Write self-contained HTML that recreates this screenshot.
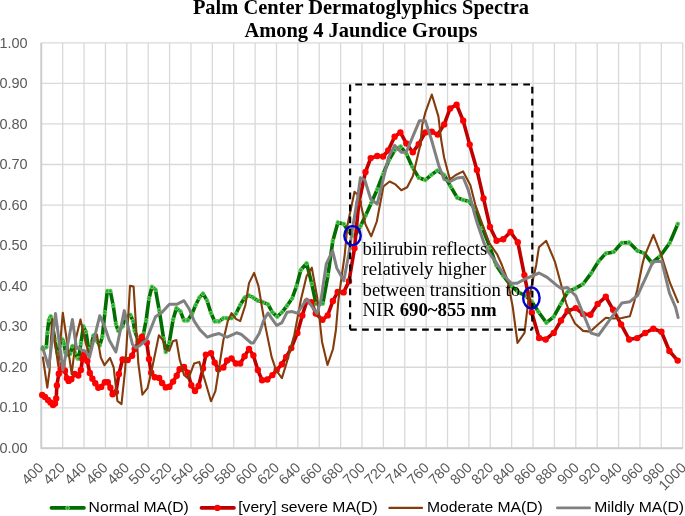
<!DOCTYPE html>
<html><head><meta charset="utf-8"><title>Palm Center Dermatoglyphics Spectra</title><style>
html,body{margin:0;padding:0;background:#fff;}
body{width:685px;height:516px;position:relative;overflow:hidden;}
.ax{font-family:"Liberation Sans",sans-serif;font-size:14.5px;fill:#595959;}
.xl{font-size:14.4px;}
.lg{font-family:"Liberation Sans",sans-serif;font-size:15.7px;fill:#000;}
.an{font-family:"Liberation Serif",serif;font-size:18.8px;fill:#000;}
.tt{font-family:"Liberation Serif",serif;font-size:20.45px;font-weight:bold;fill:#000;}
</style></head><body>
<svg width="685" height="516" viewBox="0 0 685 516" style="position:absolute;left:0;top:0;will-change:transform">
<path d="M41.30 448.35H682.70M41.30 407.80H682.70M41.30 367.25H682.70M41.30 326.70H682.70M41.30 286.15H682.70M41.30 245.60H682.70M41.30 205.05H682.70M41.30 164.50H682.70M41.30 123.95H682.70M41.30 83.40H682.70M41.30 42.85H682.70M41.30 42.85V448.35M62.68 42.85V448.35M84.06 42.85V448.35M105.44 42.85V448.35M126.82 42.85V448.35M148.20 42.85V448.35M169.58 42.85V448.35M190.96 42.85V448.35M212.34 42.85V448.35M233.72 42.85V448.35M255.10 42.85V448.35M276.48 42.85V448.35M297.86 42.85V448.35M319.24 42.85V448.35M340.62 42.85V448.35M362.00 42.85V448.35M383.38 42.85V448.35M404.76 42.85V448.35M426.14 42.85V448.35M447.52 42.85V448.35M468.90 42.85V448.35M490.28 42.85V448.35M511.66 42.85V448.35M533.04 42.85V448.35M554.42 42.85V448.35M575.80 42.85V448.35M597.18 42.85V448.35M618.56 42.85V448.35M639.94 42.85V448.35M661.32 42.85V448.35M682.70 42.85V448.35" stroke="#d9d9d9" stroke-width="1.3" fill="none"/>
<path d="M41.3 42.9V448.2H682.8" stroke="#cdcdcd" stroke-width="1.9" fill="none" stroke-linejoin="round"/>
<text x="27.6" y="453.0" text-anchor="end" class="ax">0.00</text>
<text x="27.6" y="412.4" text-anchor="end" class="ax">0.10</text>
<text x="27.6" y="371.9" text-anchor="end" class="ax">0.20</text>
<text x="27.6" y="331.3" text-anchor="end" class="ax">0.30</text>
<text x="27.6" y="290.8" text-anchor="end" class="ax">0.40</text>
<text x="27.6" y="250.2" text-anchor="end" class="ax">0.50</text>
<text x="27.6" y="209.7" text-anchor="end" class="ax">0.60</text>
<text x="27.6" y="169.1" text-anchor="end" class="ax">0.70</text>
<text x="27.6" y="128.6" text-anchor="end" class="ax">0.80</text>
<text x="27.6" y="88.0" text-anchor="end" class="ax">0.90</text>
<text x="27.6" y="47.5" text-anchor="end" class="ax">1.00</text>
<text transform="translate(44.4,468.6) rotate(-45)" text-anchor="end" class="ax xl">400</text>
<text transform="translate(65.9,468.6) rotate(-45)" text-anchor="end" class="ax xl">420</text>
<text transform="translate(87.3,468.6) rotate(-45)" text-anchor="end" class="ax xl">440</text>
<text transform="translate(108.7,468.6) rotate(-45)" text-anchor="end" class="ax xl">460</text>
<text transform="translate(130.1,468.6) rotate(-45)" text-anchor="end" class="ax xl">480</text>
<text transform="translate(151.6,468.6) rotate(-45)" text-anchor="end" class="ax xl">500</text>
<text transform="translate(173.0,468.6) rotate(-45)" text-anchor="end" class="ax xl">520</text>
<text transform="translate(194.4,468.6) rotate(-45)" text-anchor="end" class="ax xl">540</text>
<text transform="translate(215.8,468.6) rotate(-45)" text-anchor="end" class="ax xl">560</text>
<text transform="translate(237.2,468.6) rotate(-45)" text-anchor="end" class="ax xl">580</text>
<text transform="translate(258.6,468.6) rotate(-45)" text-anchor="end" class="ax xl">600</text>
<text transform="translate(280.1,468.6) rotate(-45)" text-anchor="end" class="ax xl">620</text>
<text transform="translate(301.5,468.6) rotate(-45)" text-anchor="end" class="ax xl">640</text>
<text transform="translate(322.9,468.6) rotate(-45)" text-anchor="end" class="ax xl">660</text>
<text transform="translate(344.3,468.6) rotate(-45)" text-anchor="end" class="ax xl">680</text>
<text transform="translate(365.8,468.6) rotate(-45)" text-anchor="end" class="ax xl">700</text>
<text transform="translate(387.2,468.6) rotate(-45)" text-anchor="end" class="ax xl">720</text>
<text transform="translate(408.6,468.6) rotate(-45)" text-anchor="end" class="ax xl">740</text>
<text transform="translate(430.0,468.6) rotate(-45)" text-anchor="end" class="ax xl">760</text>
<text transform="translate(451.4,468.6) rotate(-45)" text-anchor="end" class="ax xl">780</text>
<text transform="translate(472.9,468.6) rotate(-45)" text-anchor="end" class="ax xl">800</text>
<text transform="translate(494.3,468.6) rotate(-45)" text-anchor="end" class="ax xl">820</text>
<text transform="translate(515.7,468.6) rotate(-45)" text-anchor="end" class="ax xl">840</text>
<text transform="translate(537.1,468.6) rotate(-45)" text-anchor="end" class="ax xl">860</text>
<text transform="translate(558.5,468.6) rotate(-45)" text-anchor="end" class="ax xl">880</text>
<text transform="translate(580.0,468.6) rotate(-45)" text-anchor="end" class="ax xl">900</text>
<text transform="translate(601.4,468.6) rotate(-45)" text-anchor="end" class="ax xl">920</text>
<text transform="translate(622.8,468.6) rotate(-45)" text-anchor="end" class="ax xl">940</text>
<text transform="translate(644.2,468.6) rotate(-45)" text-anchor="end" class="ax xl">960</text>
<text transform="translate(665.6,468.6) rotate(-45)" text-anchor="end" class="ax xl">980</text>
<text transform="translate(687.1,468.6) rotate(-45)" text-anchor="end" class="ax xl">1000</text>
<polyline points="42.2,349.0 46.3,347.2 47.4,333.0 48.8,320.1 50.7,316.4 57.3,352.7 62.5,339.5 64.3,343.9 65.4,352.4 68.0,355.0 70.2,353.8 72.4,346.1 77.6,358.6 78.7,358.6 80.9,343.2 83.4,326.4 86.0,331.9 88.6,349.0 89.5,352.0 93.5,335.5 99.7,345.4 102.3,336.7 104.9,312.4 107.3,291.0 110.3,291.0 113.2,305.5 115.9,323.8 118.1,330.8 122.6,326.4 125.1,317.5 130.3,314.9 133.2,321.2 134.7,330.8 137.6,339.0 140.5,343.0 143.5,333.8 146.1,320.4 149.0,298.5 151.9,286.8 155.5,289.7 159.2,310.1 163.6,338.6 165.8,352.0 169.2,342.7 173.1,319.6 176.4,308.2 180.4,311.3 184.0,320.4 187.7,320.4 192.0,313.8 195.7,305.0 199.3,297.7 203.0,293.6 207.1,300.7 211.0,313.1 214.7,321.4 219.0,321.4 223.4,318.2 226.4,318.2 231.5,318.2 235.9,313.8 240.2,305.0 244.6,297.7 249.0,295.5 253.4,297.7 257.8,300.7 262.9,302.1 268.0,304.3 272.4,312.3 277.2,316.7 281.9,312.3 287.0,305.8 292.1,298.5 296.5,286.1 300.8,270.0 306.6,263.3 311.8,283.9 316.0,304.0 322.8,303.6 328.0,275.1 332.8,241.0 337.9,222.4 343.8,223.9 347.5,230.3 351.9,234.6 355.0,236.0 360.6,225.9 365.5,215.8 371.4,202.7 377.2,189.5 383.1,174.2 388.9,160.3 394.7,150.1 400.6,146.5 406.4,153.8 412.3,166.9 418.8,177.8 425.4,180.0 431.2,174.9 437.3,170.6 444.1,175.0 450.7,186.7 457.2,197.7 463.1,199.9 468.9,201.3 474.7,208.6 490.0,247.3 496.1,265.0 503.4,276.0 510.7,285.4 518.0,292.0 525.3,295.7 531.8,301.5 538.4,311.7 546.4,322.7 553.7,316.8 561.0,303.7 567.6,292.0 575.3,288.4 583.1,284.0 591.2,273.1 598.5,261.4 605.8,253.4 613.8,251.9 621.8,242.8 629.2,242.5 637.4,250.8 644.0,253.1 652.0,263.0 660.3,256.0 669.7,243.0 677.8,223.9" fill="none" stroke="#006e00" stroke-width="3.6" stroke-linejoin="round" stroke-linecap="round"/>
<g fill="#00b050" stroke="#92d050" stroke-width="0.9"><circle cx="42.2" cy="349.0" r="1.9"/><circle cx="44.2" cy="348.1" r="1.9"/><circle cx="46.3" cy="347.2" r="1.9"/><circle cx="47.4" cy="333.0" r="1.9"/><circle cx="48.8" cy="320.1" r="1.9"/><circle cx="50.7" cy="316.4" r="1.9"/><circle cx="52.9" cy="328.5" r="1.9"/><circle cx="55.1" cy="340.6" r="1.9"/><circle cx="57.3" cy="352.7" r="1.9"/><circle cx="59.9" cy="346.1" r="1.9"/><circle cx="62.5" cy="339.5" r="1.9"/><circle cx="64.3" cy="343.9" r="1.9"/><circle cx="65.4" cy="352.4" r="1.9"/><circle cx="68.0" cy="355.0" r="1.9"/><circle cx="70.2" cy="353.8" r="1.9"/><circle cx="72.4" cy="346.1" r="1.9"/><circle cx="75.0" cy="352.4" r="1.9"/><circle cx="77.6" cy="358.6" r="1.9"/><circle cx="78.7" cy="358.6" r="1.9"/><circle cx="80.9" cy="343.2" r="1.9"/><circle cx="83.4" cy="326.4" r="1.9"/><circle cx="86.0" cy="331.9" r="1.9"/><circle cx="88.6" cy="349.0" r="1.9"/><circle cx="89.5" cy="352.0" r="1.9"/><circle cx="91.5" cy="343.8" r="1.9"/><circle cx="93.5" cy="335.5" r="1.9"/><circle cx="96.6" cy="340.4" r="1.9"/><circle cx="99.7" cy="345.4" r="1.9"/><circle cx="102.3" cy="336.7" r="1.9"/><circle cx="104.9" cy="312.4" r="1.9"/><circle cx="107.3" cy="291.0" r="1.9"/><circle cx="110.3" cy="291.0" r="1.9"/><circle cx="113.2" cy="305.5" r="1.9"/><circle cx="115.9" cy="323.8" r="1.9"/><circle cx="118.1" cy="330.8" r="1.9"/><circle cx="120.3" cy="328.6" r="1.9"/><circle cx="122.6" cy="326.4" r="1.9"/><circle cx="125.1" cy="317.5" r="1.9"/><circle cx="127.7" cy="316.2" r="1.9"/><circle cx="130.3" cy="314.9" r="1.9"/><circle cx="133.2" cy="321.2" r="1.9"/><circle cx="134.7" cy="330.8" r="1.9"/><circle cx="137.6" cy="339.0" r="1.9"/><circle cx="140.5" cy="343.0" r="1.9"/><circle cx="143.5" cy="333.8" r="1.9"/><circle cx="146.1" cy="320.4" r="1.9"/><circle cx="149.0" cy="298.5" r="1.9"/><circle cx="151.9" cy="286.8" r="1.9"/><circle cx="155.5" cy="289.7" r="1.9"/><circle cx="159.2" cy="310.1" r="1.9"/><circle cx="163.6" cy="338.6" r="1.9"/><circle cx="165.8" cy="352.0" r="1.9"/><circle cx="169.2" cy="342.7" r="1.9"/><circle cx="173.1" cy="319.6" r="1.9"/><circle cx="176.4" cy="308.2" r="1.9"/><circle cx="180.4" cy="311.3" r="1.9"/><circle cx="184.0" cy="320.4" r="1.9"/><circle cx="187.7" cy="320.4" r="1.9"/><circle cx="192.0" cy="313.8" r="1.9"/><circle cx="195.7" cy="305.0" r="1.9"/><circle cx="199.3" cy="297.7" r="1.9"/><circle cx="203.0" cy="293.6" r="1.9"/><circle cx="207.1" cy="300.7" r="1.9"/><circle cx="211.0" cy="313.1" r="1.9"/><circle cx="214.7" cy="321.4" r="1.9"/><circle cx="219.0" cy="321.4" r="1.9"/><circle cx="223.4" cy="318.2" r="1.9"/><circle cx="226.4" cy="318.2" r="1.9"/><circle cx="231.5" cy="318.2" r="1.9"/><circle cx="235.9" cy="313.8" r="1.9"/><circle cx="240.2" cy="305.0" r="1.9"/><circle cx="244.6" cy="297.7" r="1.9"/><circle cx="249.0" cy="295.5" r="1.9"/><circle cx="253.4" cy="297.7" r="1.9"/><circle cx="257.8" cy="300.7" r="1.9"/><circle cx="262.9" cy="302.1" r="1.9"/><circle cx="268.0" cy="304.3" r="1.9"/><circle cx="272.4" cy="312.3" r="1.9"/><circle cx="277.2" cy="316.7" r="1.9"/><circle cx="281.9" cy="312.3" r="1.9"/><circle cx="287.0" cy="305.8" r="1.9"/><circle cx="292.1" cy="298.5" r="1.9"/><circle cx="296.5" cy="286.1" r="1.9"/><circle cx="300.8" cy="270.0" r="1.9"/><circle cx="306.6" cy="263.3" r="1.9"/><circle cx="311.8" cy="283.9" r="1.9"/><circle cx="316.0" cy="304.0" r="1.9"/><circle cx="322.8" cy="303.6" r="1.9"/><circle cx="328.0" cy="275.1" r="1.9"/><circle cx="332.8" cy="241.0" r="1.9"/><circle cx="337.9" cy="222.4" r="1.9"/><circle cx="343.8" cy="223.9" r="1.9"/><circle cx="347.5" cy="230.3" r="1.9"/><circle cx="351.9" cy="234.6" r="1.9"/><circle cx="355.0" cy="236.0" r="1.9"/><circle cx="360.6" cy="225.9" r="1.9"/><circle cx="365.5" cy="215.8" r="1.9"/><circle cx="371.4" cy="202.7" r="1.9"/><circle cx="377.2" cy="189.5" r="1.9"/><circle cx="383.1" cy="174.2" r="1.9"/><circle cx="388.9" cy="160.3" r="1.9"/><circle cx="394.7" cy="150.1" r="1.9"/><circle cx="400.6" cy="146.5" r="1.9"/><circle cx="406.4" cy="153.8" r="1.9"/><circle cx="412.3" cy="166.9" r="1.9"/><circle cx="418.8" cy="177.8" r="1.9"/><circle cx="425.4" cy="180.0" r="1.9"/><circle cx="431.2" cy="174.9" r="1.9"/><circle cx="437.3" cy="170.6" r="1.9"/><circle cx="444.1" cy="175.0" r="1.9"/><circle cx="450.7" cy="186.7" r="1.9"/><circle cx="457.2" cy="197.7" r="1.9"/><circle cx="463.1" cy="199.9" r="1.9"/><circle cx="468.9" cy="201.3" r="1.9"/><circle cx="474.7" cy="208.6" r="1.9"/><circle cx="482.4" cy="227.9" r="1.9"/><circle cx="490.0" cy="247.3" r="1.9"/><circle cx="496.1" cy="265.0" r="1.9"/><circle cx="503.4" cy="276.0" r="1.9"/><circle cx="510.7" cy="285.4" r="1.9"/><circle cx="518.0" cy="292.0" r="1.9"/><circle cx="525.3" cy="295.7" r="1.9"/><circle cx="531.8" cy="301.5" r="1.9"/><circle cx="538.4" cy="311.7" r="1.9"/><circle cx="546.4" cy="322.7" r="1.9"/><circle cx="553.7" cy="316.8" r="1.9"/><circle cx="561.0" cy="303.7" r="1.9"/><circle cx="567.6" cy="292.0" r="1.9"/><circle cx="575.3" cy="288.4" r="1.9"/><circle cx="583.1" cy="284.0" r="1.9"/><circle cx="591.2" cy="273.1" r="1.9"/><circle cx="598.5" cy="261.4" r="1.9"/><circle cx="605.8" cy="253.4" r="1.9"/><circle cx="613.8" cy="251.9" r="1.9"/><circle cx="621.8" cy="242.8" r="1.9"/><circle cx="629.2" cy="242.5" r="1.9"/><circle cx="637.4" cy="250.8" r="1.9"/><circle cx="644.0" cy="253.1" r="1.9"/><circle cx="652.0" cy="263.0" r="1.9"/><circle cx="660.3" cy="256.0" r="1.9"/><circle cx="669.7" cy="243.0" r="1.9"/><circle cx="677.8" cy="223.9" r="1.9"/></g>
<polyline points="42.2,395.0 45.0,397.0 48.0,400.0 50.5,402.5 53.0,405.0 55.0,403.5 56.2,398.4 56.9,385.5 58.8,373.7 62.5,364.5 65.0,370.7 66.9,378.3 68.6,380.9 71.3,379.2 74.8,373.9 78.3,375.6 80.9,370.0 82.5,359.0 84.0,354.5 87.3,361.0 89.8,373.0 92.4,378.8 95.3,383.3 98.3,387.7 101.2,386.9 104.9,382.2 107.8,382.2 110.4,387.7 112.6,394.3 115.9,392.1 118.9,374.0 122.6,359.4 127.7,360.1 132.1,355.7 134.7,349.0 138.5,342.0 142.0,336.8 146.8,342.7 149.0,358.9 151.2,372.8 154.8,377.2 159.2,378.0 162.1,383.0 165.8,387.4 169.4,386.7 173.1,381.6 176.7,375.8 179.6,369.2 184.0,367.0 187.7,372.8 191.3,385.3 195.0,391.1 198.6,386.0 203.0,368.5 205.9,354.6 211.0,353.1 214.7,362.6 218.3,369.2 223.4,367.5 227.1,360.5 231.5,358.4 235.9,363.5 240.2,363.5 244.6,356.2 249.0,348.9 253.4,355.4 257.8,370.0 262.1,380.3 267.3,379.5 272.4,375.1 276.7,370.0 281.9,364.2 286.2,356.9 291.3,348.1 297.4,332.9 302.3,315.4 306.7,301.4 311.5,302.3 315.8,313.6 322.4,319.8 327.7,315.4 332.9,301.0 337.7,292.0 343.6,292.4 349.0,281.3 354.5,248.3 358.8,202.5 365.5,172.0 370.7,158.1 377.2,156.0 383.1,156.5 388.2,150.5 394.6,136.8 400.4,132.4 406.3,143.4 412.8,152.2 418.7,144.1 425.3,132.4 431.8,131.7 437.7,134.6 444.2,124.4 450.1,108.4 456.6,104.7 463.2,120.8 469.7,144.6 476.9,169.9 483.5,198.4 490.0,226.9 496.6,240.8 503.2,239.3 510.5,232.0 517.8,242.2 524.4,275.1 531.8,312.4 539.1,338.0 545.7,339.5 553.7,332.9 561.0,320.5 567.6,311.0 575.7,308.1 583.1,314.1 590.4,314.8 597.7,303.9 605.8,296.8 613.1,309.7 621.1,324.4 629.2,339.5 637.2,338.1 645.2,333.0 653.3,328.7 661.4,331.7 669.4,351.0 677.7,360.6" fill="none" stroke="#c00000" stroke-width="3.6" stroke-linejoin="round" stroke-linecap="round"/>
<g fill="#ff0000"><circle cx="42.2" cy="395.0" r="3.2"/><circle cx="45.0" cy="397.0" r="3.2"/><circle cx="48.0" cy="400.0" r="3.2"/><circle cx="50.5" cy="402.5" r="3.2"/><circle cx="53.0" cy="405.0" r="3.2"/><circle cx="55.0" cy="403.5" r="3.2"/><circle cx="56.2" cy="398.4" r="3.2"/><circle cx="56.9" cy="385.5" r="3.2"/><circle cx="58.8" cy="373.7" r="3.2"/><circle cx="60.6" cy="369.1" r="3.2"/><circle cx="62.5" cy="364.5" r="3.2"/><circle cx="65.0" cy="370.7" r="3.2"/><circle cx="66.9" cy="378.3" r="3.2"/><circle cx="68.6" cy="380.9" r="3.2"/><circle cx="71.3" cy="379.2" r="3.2"/><circle cx="74.8" cy="373.9" r="3.2"/><circle cx="78.3" cy="375.6" r="3.2"/><circle cx="80.9" cy="370.0" r="3.2"/><circle cx="82.5" cy="359.0" r="3.2"/><circle cx="84.0" cy="354.5" r="3.2"/><circle cx="87.3" cy="361.0" r="3.2"/><circle cx="89.8" cy="373.0" r="3.2"/><circle cx="92.4" cy="378.8" r="3.2"/><circle cx="95.3" cy="383.3" r="3.2"/><circle cx="98.3" cy="387.7" r="3.2"/><circle cx="101.2" cy="386.9" r="3.2"/><circle cx="104.9" cy="382.2" r="3.2"/><circle cx="107.8" cy="382.2" r="3.2"/><circle cx="110.4" cy="387.7" r="3.2"/><circle cx="112.6" cy="394.3" r="3.2"/><circle cx="115.9" cy="392.1" r="3.2"/><circle cx="118.9" cy="374.0" r="3.2"/><circle cx="122.6" cy="359.4" r="3.2"/><circle cx="125.2" cy="359.8" r="3.2"/><circle cx="127.7" cy="360.1" r="3.2"/><circle cx="132.1" cy="355.7" r="3.2"/><circle cx="134.7" cy="349.0" r="3.2"/><circle cx="138.5" cy="342.0" r="3.2"/><circle cx="142.0" cy="336.8" r="3.2"/><circle cx="146.8" cy="342.7" r="3.2"/><circle cx="149.0" cy="358.9" r="3.2"/><circle cx="151.2" cy="372.8" r="3.2"/><circle cx="154.8" cy="377.2" r="3.2"/><circle cx="159.2" cy="378.0" r="3.2"/><circle cx="162.1" cy="383.0" r="3.2"/><circle cx="165.8" cy="387.4" r="3.2"/><circle cx="169.4" cy="386.7" r="3.2"/><circle cx="173.1" cy="381.6" r="3.2"/><circle cx="176.7" cy="375.8" r="3.2"/><circle cx="179.6" cy="369.2" r="3.2"/><circle cx="184.0" cy="367.0" r="3.2"/><circle cx="187.7" cy="372.8" r="3.2"/><circle cx="191.3" cy="385.3" r="3.2"/><circle cx="195.0" cy="391.1" r="3.2"/><circle cx="198.6" cy="386.0" r="3.2"/><circle cx="203.0" cy="368.5" r="3.2"/><circle cx="205.9" cy="354.6" r="3.2"/><circle cx="211.0" cy="353.1" r="3.2"/><circle cx="214.7" cy="362.6" r="3.2"/><circle cx="218.3" cy="369.2" r="3.2"/><circle cx="223.4" cy="367.5" r="3.2"/><circle cx="227.1" cy="360.5" r="3.2"/><circle cx="231.5" cy="358.4" r="3.2"/><circle cx="235.9" cy="363.5" r="3.2"/><circle cx="240.2" cy="363.5" r="3.2"/><circle cx="244.6" cy="356.2" r="3.2"/><circle cx="249.0" cy="348.9" r="3.2"/><circle cx="253.4" cy="355.4" r="3.2"/><circle cx="257.8" cy="370.0" r="3.2"/><circle cx="262.1" cy="380.3" r="3.2"/><circle cx="267.3" cy="379.5" r="3.2"/><circle cx="272.4" cy="375.1" r="3.2"/><circle cx="276.7" cy="370.0" r="3.2"/><circle cx="281.9" cy="364.2" r="3.2"/><circle cx="286.2" cy="356.9" r="3.2"/><circle cx="291.3" cy="348.1" r="3.2"/><circle cx="297.4" cy="332.9" r="3.2"/><circle cx="302.3" cy="315.4" r="3.2"/><circle cx="306.7" cy="301.4" r="3.2"/><circle cx="311.5" cy="302.3" r="3.2"/><circle cx="315.8" cy="313.6" r="3.2"/><circle cx="322.4" cy="319.8" r="3.2"/><circle cx="327.7" cy="315.4" r="3.2"/><circle cx="332.9" cy="301.0" r="3.2"/><circle cx="337.7" cy="292.0" r="3.2"/><circle cx="343.6" cy="292.4" r="3.2"/><circle cx="349.0" cy="281.3" r="3.2"/><circle cx="354.5" cy="248.3" r="3.2"/><circle cx="358.8" cy="202.5" r="3.2"/><circle cx="365.5" cy="172.0" r="3.2"/><circle cx="370.7" cy="158.1" r="3.2"/><circle cx="377.2" cy="156.0" r="3.2"/><circle cx="383.1" cy="156.5" r="3.2"/><circle cx="388.2" cy="150.5" r="3.2"/><circle cx="394.6" cy="136.8" r="3.2"/><circle cx="400.4" cy="132.4" r="3.2"/><circle cx="406.3" cy="143.4" r="3.2"/><circle cx="412.8" cy="152.2" r="3.2"/><circle cx="418.7" cy="144.1" r="3.2"/><circle cx="425.3" cy="132.4" r="3.2"/><circle cx="431.8" cy="131.7" r="3.2"/><circle cx="437.7" cy="134.6" r="3.2"/><circle cx="444.2" cy="124.4" r="3.2"/><circle cx="450.1" cy="108.4" r="3.2"/><circle cx="456.6" cy="104.7" r="3.2"/><circle cx="463.2" cy="120.8" r="3.2"/><circle cx="469.7" cy="144.6" r="3.2"/><circle cx="476.9" cy="169.9" r="3.2"/><circle cx="483.5" cy="198.4" r="3.2"/><circle cx="490.0" cy="226.9" r="3.2"/><circle cx="496.6" cy="240.8" r="3.2"/><circle cx="503.2" cy="239.3" r="3.2"/><circle cx="510.5" cy="232.0" r="3.2"/><circle cx="517.8" cy="242.2" r="3.2"/><circle cx="524.4" cy="275.1" r="3.2"/><circle cx="531.8" cy="312.4" r="3.2"/><circle cx="539.1" cy="338.0" r="3.2"/><circle cx="545.7" cy="339.5" r="3.2"/><circle cx="553.7" cy="332.9" r="3.2"/><circle cx="561.0" cy="320.5" r="3.2"/><circle cx="567.6" cy="311.0" r="3.2"/><circle cx="575.7" cy="308.1" r="3.2"/><circle cx="583.1" cy="314.1" r="3.2"/><circle cx="590.4" cy="314.8" r="3.2"/><circle cx="597.7" cy="303.9" r="3.2"/><circle cx="605.8" cy="296.8" r="3.2"/><circle cx="613.1" cy="309.7" r="3.2"/><circle cx="621.1" cy="324.4" r="3.2"/><circle cx="629.2" cy="339.5" r="3.2"/><circle cx="637.2" cy="338.1" r="3.2"/><circle cx="645.2" cy="333.0" r="3.2"/><circle cx="653.3" cy="328.7" r="3.2"/><circle cx="661.4" cy="331.7" r="3.2"/><circle cx="669.4" cy="351.0" r="3.2"/><circle cx="677.7" cy="360.6" r="3.2"/></g>
<polyline points="42.9,357.5 47.3,387.7 49.6,370.0 51.0,338.0 52.5,319.0 54.4,338.0 58.3,366.0 62.8,312.7 67.2,343.0 71.7,374.0 76.0,338.0 80.5,319.4 85.7,343.0 89.5,356.0 93.1,338.0 96.9,334.5 100.8,357.5 104.5,365.2 110.0,357.9 113.7,367.5 117.4,400.9 121.5,404.2 125.1,370.0 127.0,338.0 130.0,285.8 133.6,286.6 138.3,363.0 142.4,394.7 147.5,388.2 151.9,369.2 158.9,335.3 162.6,339.7 166.3,350.0 169.2,350.8 172.9,341.2 176.4,340.1 179.6,359.0 184.0,375.0 188.4,378.7 194.2,363.4 199.3,361.9 205.9,383.8 211.0,401.3 215.4,391.1 223.4,340.0 227.8,321.1 231.5,313.1 235.9,318.9 240.2,321.1 245.4,305.0 249.0,283.1 254.1,272.9 258.5,286.1 262.1,308.0 265.8,328.4 271.6,356.9 276.0,370.0 281.9,378.1 286.2,364.2 290.6,348.1 294.3,335.0 300.9,299.7 306.6,276.0 311.8,267.7 317.3,298.0 320.2,325.0 322.0,341.7 327.5,365.0 333.0,349.0 335.9,330.0 338.5,299.7 341.6,276.9 344.7,255.0 347.5,225.0 354.5,191.8 358.8,196.1 365.4,224.2 371.2,236.4 376.8,221.5 383.4,186.5 389.6,181.5 395.5,184.4 401.3,190.3 407.2,187.3 413.0,175.7 420.3,145.0 422.3,124.4 425.3,112.7 431.8,94.5 438.4,116.4 441.2,140.0 444.1,157.5 449.9,179.4 455.8,175.0 463.1,171.4 470.4,185.3 475.4,205.0 489.3,243.0 497.3,254.6 501.9,265.0 507.6,280.2 512.8,307.3 517.5,343.0 524.5,332.9 528.2,301.5 536.2,265.0 538.9,247.3 546.2,240.8 555.0,261.9 566.1,303.0 570.5,314.6 575.0,323.5 583.1,330.9 590.4,331.6 598.0,324.5 605.8,317.7 613.8,318.5 621.8,318.0 629.9,316.3 634.2,301.7 637.2,290.0 642.2,265.3 644.5,256.3 653.4,234.8 661.2,254.8 669.9,282.7 678.0,302.1" fill="none" stroke="#843c0c" stroke-width="2.1" stroke-linejoin="round" stroke-linecap="round"/>
<polyline points="42.4,346.8 48.7,367.3 55.5,313.6 62.9,370.0 72.4,319.5 76.5,348.5 79.2,347.6 81.5,350.0 85.7,351.3 89.5,357.5 99.8,315.7 104.9,327.1 109.3,340.3 115.9,352.0 124.3,310.6 128.7,329.4 132.5,344.5 136.1,347.8 140.5,344.9 146.0,340.5 149.4,332.4 152.3,325.0 155.5,316.7 162.1,312.3 169.4,304.3 176.7,304.3 184.0,300.7 189.1,308.7 194.2,321.1 200.0,329.9 207.4,337.2 213.2,335.0 219.0,333.5 223.4,335.7 227.1,337.2 236.6,332.8 241.0,334.2 251.2,343.0 253.4,343.0 259.2,333.5 263.6,320.4 268.0,313.1 276.7,325.5 281.9,322.6 287.0,312.3 292.1,311.6 297.5,313.2 306.6,299.0 317.0,313.3 321.0,299.7 326.3,263.8 332.6,250.8 336.8,268.1 343.8,280.8 348.6,255.0 352.8,226.8 357.6,198.0 360.4,177.8 364.8,180.0 370.7,199.0 377.2,204.1 388.5,157.5 394.6,145.4 401.2,152.2 406.3,152.2 419.4,120.8 425.3,120.8 431.4,139.5 439.0,166.3 444.1,179.4 449.9,181.6 457.2,178.0 463.1,177.2 468.2,189.6 474.7,214.5 477.5,224.0 484.0,243.0 488.8,252.6 496.5,263.0 506.1,278.0 511.4,283.2 517.2,283.2 523.8,279.6 539.1,273.0 547.2,277.4 555.9,284.7 561.0,288.4 567.6,287.6 573.4,293.5 575.8,295.8 591.2,333.1 598.5,335.3 621.8,303.1 629.9,301.7 637.5,295.5 645.8,277.6 653.0,261.7 661.7,261.2 669.4,293.0 675.6,307.4 678.1,317.5" fill="none" stroke="#808080" stroke-width="3" stroke-linejoin="round" stroke-linecap="round"/>
<g stroke="#000" stroke-width="2.2" stroke-dasharray="6.7 5.3" fill="none"><path d="M350.1 84.5V329.6"/><path d="M350.1 329.6H532.3"/><path d="M532.3 84.5V329.6" stroke-dashoffset="9.8"/><path d="M350.1 84.5H532.3" stroke-dashoffset="6.8"/></g>
<g fill="none" stroke="#0000cc" stroke-width="2.4"><ellipse cx="352.5" cy="235.6" rx="8.2" ry="9.5"/><ellipse cx="531.4" cy="297.9" rx="8.2" ry="10.5"/></g>
<text x="362.6" y="255.1" class="an">bilirubin reflects</text>
<text x="362.6" y="275.3" class="an">relatively higher</text>
<text x="362.6" y="295.7" class="an">between transition to</text>
<text x="362.6" y="316.3" class="an">NIR <tspan font-weight="bold">690~855 nm</tspan></text>
<g stroke-width="3.6" stroke-linecap="round"><path d="M51.4 507.9H84" stroke="#006e00"/><path d="M201.4 507.9H234" stroke="#c00000"/></g>
<circle cx="67.6" cy="507.9" r="1.9" fill="#00b050" stroke="#92d050" stroke-width="0.9"/>
<circle cx="217.4" cy="507.9" r="3.2" fill="#ff0000"/>
<path d="M389.35 507.9H422.05" stroke="#843c0c" stroke-width="2.1" stroke-linecap="round"/>
<path d="M557.35 507.9H589.65" stroke="#808080" stroke-width="2.7" stroke-linecap="round"/>
<text transform="translate(88.6,512.3) scale(1,0.94)" class="lg">Normal MA(D)</text>
<text transform="translate(238.2,512.3) scale(1,0.94)" class="lg">[very] severe MA(D)</text>
<text transform="translate(426.9,512.3) scale(1,0.94)" class="lg">Moderate MA(D)</text>
<text transform="translate(594.2,512.3) scale(1,0.94)" class="lg">Mildly MA(D)</text>
<text x="361" y="14.2" text-anchor="middle" class="tt">Palm Center Dermatoglyphics Spectra</text>
<text x="361" y="37.4" text-anchor="middle" class="tt">Among 4 Jaundice Groups</text>
</svg>
</body></html>
